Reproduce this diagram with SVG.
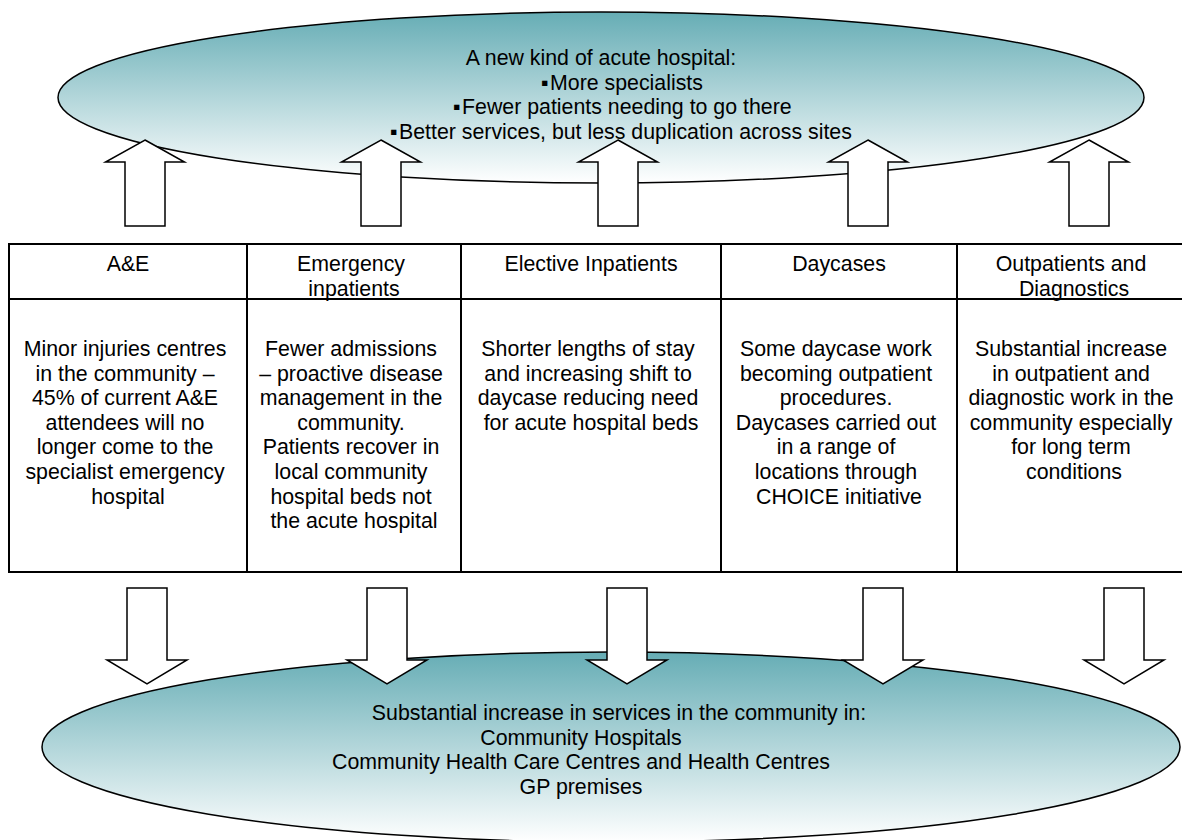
<svg xmlns="http://www.w3.org/2000/svg" width="1182" height="840" viewBox="0 0 1182 840">
  <defs>
    <linearGradient id="teal" x1="0" y1="0" x2="0" y2="1">
      <stop offset="0" stop-color="#66adb5"/>
      <stop offset="1" stop-color="#ffffff"/>
    </linearGradient>
    <!-- block arrows, drawn about their own centre line -->
    <polygon id="arrow-up" points="0,0 39.5,22 20,22 20,86 -20,86 -20,22 -39.5,22"/>
    <polygon id="arrow-down" points="-20,0 20,0 20,72 40,72 0,96 -40,72 -20,72"/>
  </defs>
  <style>
    text { font-family: "Liberation Sans", Arial, sans-serif; font-size: 21.33px; fill: #000; }
    .c { text-anchor: middle; }
    .bubble { fill: url(#teal); stroke: #000; stroke-width: 1.5; }
    .arrow { fill: #fff; stroke: #000; stroke-width: 1.5; stroke-linejoin: miter; }
    .grid { fill: none; stroke: #000; stroke-width: 2; }
  </style>

  <rect width="1182" height="840" fill="#fff"/>

  <!-- acute hospital bubble -->
  <g id="acute-hospital">
    <ellipse class="bubble" cx="601" cy="97.5" rx="543" ry="85.5"/>
    <text class="c" x="601" y="65">A new kind of acute hospital:</text>
    <text><tspan x="541" y="89.5">▪</tspan><tspan x="550">More specialists</tspan></text>
    <text><tspan x="453" y="114">▪</tspan><tspan x="462">Fewer patients needing to go there</tspan></text>
    <text><tspan x="390" y="138.5">▪</tspan><tspan x="399">Better services, but less duplication across sites</tspan></text>
  </g>

  <!-- community services bubble -->
  <g id="community">
    <ellipse class="bubble" cx="611" cy="747" rx="569" ry="95"/>
    <text class="c" x="619" y="720">Substantial increase in services in the community in:</text>
    <text class="c" x="581" y="744.5">Community Hospitals</text>
    <text class="c" x="581" y="769">Community Health Care Centres and Health Centres</text>
    <text class="c" x="581" y="793.5">GP premises</text>
  </g>

  <!-- service table -->
  <g id="table">
    <rect class="grid" x="9" y="244" width="1190" height="328"/>
    <line class="grid" x1="9" y1="299" x2="1199" y2="299"/>
    <line class="grid" x1="247" y1="244" x2="247" y2="572"/>
    <line class="grid" x1="461" y1="244" x2="461" y2="572"/>
    <line class="grid" x1="721" y1="244" x2="721" y2="572"/>
    <line class="grid" x1="957" y1="244" x2="957" y2="572"/>
  </g>

  <g id="col-ae">
    <text class="c" x="128" y="271">A&amp;E</text>
    <text class="c">
      <tspan x="128" y="356">Minor injuries centres</tspan>
      <tspan x="128" dy="24.6">in the community –</tspan>
      <tspan x="128" dy="24.6">45% of current A&amp;E</tspan>
      <tspan x="128" dy="24.6">attendees will no</tspan>
      <tspan x="128" dy="24.6">longer come to the</tspan>
      <tspan x="128" dy="24.6">specialist emergency</tspan>
      <tspan x="128" dy="24.6">hospital</tspan>
    </text>
  </g>

  <g id="col-emergency">
    <text class="c">
      <tspan x="354" y="271">Emergency</tspan>
      <tspan x="354" dy="24.5">inpatients</tspan>
    </text>
    <text class="c">
      <tspan x="354" y="356">Fewer admissions</tspan>
      <tspan x="354" dy="24.6">– proactive disease</tspan>
      <tspan x="354" dy="24.6">management in the</tspan>
      <tspan x="354" dy="24.6">community.</tspan>
      <tspan x="354" dy="24.6">Patients recover in</tspan>
      <tspan x="354" dy="24.6">local community</tspan>
      <tspan x="354" dy="24.6">hospital beds not</tspan>
      <tspan x="354" dy="24.6">the acute hospital</tspan>
    </text>
  </g>

  <g id="col-elective">
    <text class="c" x="591" y="271">Elective Inpatients</text>
    <text class="c">
      <tspan x="591" y="356">Shorter lengths of stay</tspan>
      <tspan x="591" dy="24.6">and increasing shift to</tspan>
      <tspan x="591" dy="24.6">daycase reducing need</tspan>
      <tspan x="591" dy="24.6">for acute hospital beds</tspan>
    </text>
  </g>

  <g id="col-daycases">
    <text class="c" x="839" y="271">Daycases</text>
    <text class="c">
      <tspan x="839" y="356">Some daycase work</tspan>
      <tspan x="839" dy="24.6">becoming outpatient</tspan>
      <tspan x="839" dy="24.6">procedures.</tspan>
      <tspan x="839" dy="24.6">Daycases carried out</tspan>
      <tspan x="839" dy="24.6">in a range of</tspan>
      <tspan x="839" dy="24.6">locations through</tspan>
      <tspan x="839" dy="24.6">CHOICE initiative</tspan>
    </text>
  </g>

  <g id="col-outpatients">
    <text class="c">
      <tspan x="1074" y="271">Outpatients and</tspan>
      <tspan x="1074" dy="24.5">Diagnostics</tspan>
    </text>
    <text class="c">
      <tspan x="1074" y="356">Substantial increase</tspan>
      <tspan x="1074" dy="24.6">in outpatient and</tspan>
      <tspan x="1074" dy="24.6">diagnostic work in the</tspan>
      <tspan x="1074" dy="24.6">community especially</tspan>
      <tspan x="1074" dy="24.6">for long term</tspan>
      <tspan x="1074" dy="24.6">conditions</tspan>
    </text>
  </g>

  <!-- connectors: block arrows up to the hospital and down to the community -->
  <g id="connectors" class="arrow">
    <use href="#arrow-up" x="145" y="140"/>
    <use href="#arrow-up" x="381" y="140"/>
    <use href="#arrow-up" x="618" y="140"/>
    <use href="#arrow-up" x="868" y="140"/>
    <use href="#arrow-up" x="1089" y="140"/>
    <use href="#arrow-down" x="147" y="588"/>
    <use href="#arrow-down" x="387" y="588"/>
    <use href="#arrow-down" x="627" y="588"/>
    <use href="#arrow-down" x="883" y="588"/>
    <use href="#arrow-down" x="1124" y="588"/>
  </g>
</svg>
